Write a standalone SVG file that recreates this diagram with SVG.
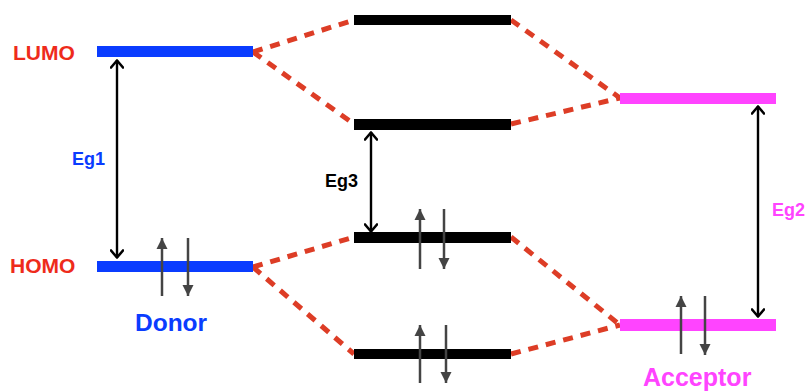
<svg xmlns="http://www.w3.org/2000/svg" width="809" height="392" viewBox="0 0 809 392">
  <style>
    .lbl { font-family: "Liberation Sans", Arial, sans-serif; font-weight: bold; }
    .red { fill: #ee2b1b; }
    .blue { fill: #0a3cff; }
    .mag { fill: #ff44ff; }
    .blk { fill: #000; }
    .corr { stroke: #dd3d26; stroke-width: 5; stroke-dasharray: 10 8; fill: none; }
    .gap { stroke: #000; stroke-width: 2.4; fill: none; marker-start: url(#chev); marker-end: url(#chev); }
    .spin { stroke: #444; stroke-width: 2.5; fill: none; marker-end: url(#tri); }
  </style>
  <defs>
    <marker id="chev" viewBox="0 0 14 14" refX="11.5" refY="7" markerWidth="14" markerHeight="14" markerUnits="userSpaceOnUse" orient="auto-start-reverse">
      <path d="M4,1 L11,7 L4,13" fill="none" stroke="#000" stroke-width="2.6" stroke-linecap="round" stroke-linejoin="round"/>
    </marker>
    <marker id="tri" viewBox="0 0 12 12" refX="11" refY="6" markerWidth="12" markerHeight="12" markerUnits="userSpaceOnUse" orient="auto">
      <path d="M0,0.5 L11,6 L0,11.5 Z" fill="#444"/>
    </marker>
  </defs>

  <!-- correlation lines between levels, then the band gaps -->
  <g id="connectors">
    <line class="corr" x1="253" y1="52" x2="354" y2="20"/>
    <line class="corr" x1="253" y1="52" x2="354" y2="124"/>
    <line class="corr" x1="511" y1="20" x2="620" y2="98"/>
    <line class="corr" x1="511" y1="124" x2="620" y2="98"/>
    <line class="corr" x1="253" y1="267" x2="354" y2="237"/>
    <line class="corr" x1="253" y1="267" x2="354" y2="354"/>
    <line class="corr" x1="511" y1="237" x2="620" y2="325"/>
    <line class="corr" x1="511" y1="354" x2="620" y2="325"/>
    <line class="gap" x1="117" y1="60" x2="117" y2="258"/>
    <line class="gap" x1="371" y1="132" x2="371" y2="232"/>
    <line class="gap" x1="758" y1="106" x2="758" y2="317"/>
  </g>

  <!-- donor -->
  <g id="donor-lumo">
    <rect x="97" y="46" width="156" height="11" fill="#0a3cff"/>
    <text class="lbl red" x="13" y="60" font-size="21">LUMO</text>
  </g>
  <g id="donor-homo">
    <rect x="97" y="261" width="156" height="11" fill="#0a3cff"/>
    <text class="lbl red" x="10" y="273" font-size="21">HOMO</text>
    <line class="spin" x1="162" y1="296" x2="162" y2="238"/>
    <line class="spin" x1="188" y1="238" x2="188" y2="296"/>
    <text class="lbl blue" x="135" y="331" font-size="24.5">Donor</text>
  </g>
  <g id="eg1">
    <text class="lbl blue" x="72" y="165" font-size="18">Eg1</text>
  </g>

  <!-- complex levels -->
  <g id="complex-lumo2">
    <rect x="354" y="15" width="157" height="10" fill="#000"/>
  </g>
  <g id="complex-lumo1">
    <rect x="354" y="119" width="157" height="11" fill="#000"/>
  </g>
  <g id="complex-homo1">
    <rect x="354" y="232" width="157" height="11" fill="#000"/>
    <line class="spin" x1="420" y1="269" x2="420" y2="209"/>
    <line class="spin" x1="444" y1="209" x2="444" y2="269"/>
  </g>
  <g id="complex-homo2">
    <rect x="354" y="349" width="157" height="10" fill="#000"/>
    <line class="spin" x1="420" y1="383" x2="420" y2="325"/>
    <line class="spin" x1="446" y1="325" x2="446" y2="383"/>
  </g>
  <g id="eg3">
    <text class="lbl blk" x="325" y="187" font-size="18">Eg3</text>
  </g>

  <!-- acceptor -->
  <g id="acceptor-lumo">
    <rect x="620" y="93" width="156" height="11" fill="#ff44ff"/>
  </g>
  <g id="acceptor-homo">
    <rect x="620" y="319" width="156" height="12" fill="#ff44ff"/>
    <line class="spin" x1="681" y1="354" x2="681" y2="296"/>
    <line class="spin" x1="705" y1="296" x2="705" y2="355"/>
    <text class="lbl mag" x="643" y="386" font-size="25">Acceptor</text>
  </g>
  <g id="eg2">
    <text class="lbl mag" x="772" y="216" font-size="18">Eg2</text>
  </g>
</svg>
